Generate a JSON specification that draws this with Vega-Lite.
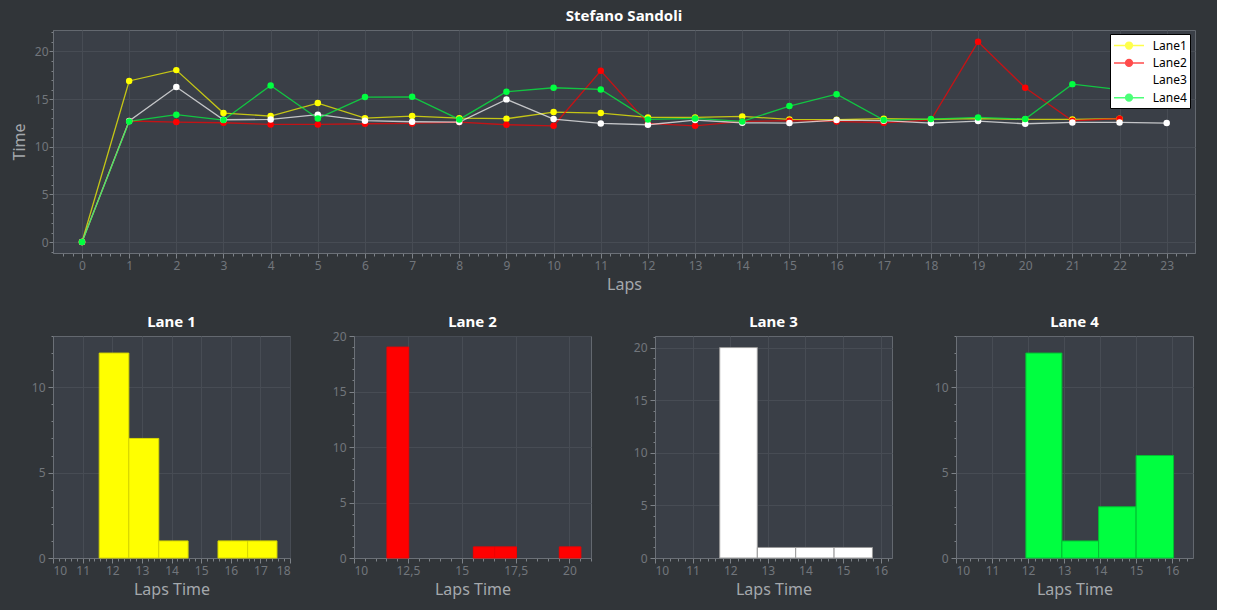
{
  "$schema": "https://vega.github.io/schema/vega-lite/v6.json",
  "background": "#313539",
  "padding": {"left": 10, "top": 8, "right": 21, "bottom": 12},
  "config": {
    "font": "Noto Sans",
    "view": {"fill": "#3a3f47", "stroke": "#63686f", "strokeWidth": 1},
    "axis": {
      "domainColor": "#6b7077",
      "tickColor": "#7c8187",
      "gridColor": "#474c54",
      "labelColor": "#71767c",
      "labelFontSize": 12,
      "titleColor": "#a4a8ac",
      "titleFontSize": 16,
      "titleFontWeight": "normal"
    },
    "title": {"color": "#ffffff", "fontSize": 15, "fontWeight": "bold", "offset": 6}
  },
  "datasets": {
    "laps": [
      {"Lane": "Lane1", "Lap": 0, "Time": 0},
      {"Lane": "Lane1", "Lap": 1, "Time": 16.9},
      {"Lane": "Lane1", "Lap": 2, "Time": 18.04},
      {"Lane": "Lane1", "Lap": 3, "Time": 13.53},
      {"Lane": "Lane1", "Lap": 4, "Time": 13.22},
      {"Lane": "Lane1", "Lap": 5, "Time": 14.58},
      {"Lane": "Lane1", "Lap": 6, "Time": 13.0},
      {"Lane": "Lane1", "Lap": 7, "Time": 13.22},
      {"Lane": "Lane1", "Lap": 8, "Time": 13.0},
      {"Lane": "Lane1", "Lap": 9, "Time": 12.94},
      {"Lane": "Lane1", "Lap": 10, "Time": 13.64},
      {"Lane": "Lane1", "Lap": 11, "Time": 13.53},
      {"Lane": "Lane1", "Lap": 12, "Time": 13.08},
      {"Lane": "Lane1", "Lap": 13, "Time": 13.08},
      {"Lane": "Lane1", "Lap": 14, "Time": 13.18},
      {"Lane": "Lane1", "Lap": 15, "Time": 12.87},
      {"Lane": "Lane1", "Lap": 16, "Time": 12.83},
      {"Lane": "Lane1", "Lap": 17, "Time": 12.94},
      {"Lane": "Lane1", "Lap": 18, "Time": 12.87},
      {"Lane": "Lane1", "Lap": 19, "Time": 12.94},
      {"Lane": "Lane1", "Lap": 20, "Time": 12.87},
      {"Lane": "Lane1", "Lap": 21, "Time": 12.87},
      {"Lane": "Lane1", "Lap": 22, "Time": 12.94},
      {"Lane": "Lane2", "Lap": 0, "Time": 0},
      {"Lane": "Lane2", "Lap": 1, "Time": 12.7},
      {"Lane": "Lane2", "Lap": 2, "Time": 12.59},
      {"Lane": "Lane2", "Lap": 3, "Time": 12.52},
      {"Lane": "Lane2", "Lap": 4, "Time": 12.34},
      {"Lane": "Lane2", "Lap": 5, "Time": 12.34},
      {"Lane": "Lane2", "Lap": 6, "Time": 12.41},
      {"Lane": "Lane2", "Lap": 7, "Time": 12.45},
      {"Lane": "Lane2", "Lap": 8, "Time": 12.59},
      {"Lane": "Lane2", "Lap": 9, "Time": 12.31},
      {"Lane": "Lane2", "Lap": 10, "Time": 12.2},
      {"Lane": "Lane2", "Lap": 11, "Time": 17.97},
      {"Lane": "Lane2", "Lap": 12, "Time": 12.45},
      {"Lane": "Lane2", "Lap": 13, "Time": 12.2},
      {"Lane": "Lane2", "Lap": 14, "Time": 12.66},
      {"Lane": "Lane2", "Lap": 15, "Time": 12.73},
      {"Lane": "Lane2", "Lap": 16, "Time": 12.66},
      {"Lane": "Lane2", "Lap": 17, "Time": 12.52},
      {"Lane": "Lane2", "Lap": 18, "Time": 12.8},
      {"Lane": "Lane2", "Lap": 19, "Time": 21.01},
      {"Lane": "Lane2", "Lap": 20, "Time": 16.19},
      {"Lane": "Lane2", "Lap": 21, "Time": 12.73},
      {"Lane": "Lane2", "Lap": 22, "Time": 12.94},
      {"Lane": "Lane3", "Lap": 0, "Time": 0},
      {"Lane": "Lane3", "Lap": 1, "Time": 12.7},
      {"Lane": "Lane3", "Lap": 2, "Time": 16.26},
      {"Lane": "Lane3", "Lap": 3, "Time": 12.83},
      {"Lane": "Lane3", "Lap": 4, "Time": 12.87},
      {"Lane": "Lane3", "Lap": 5, "Time": 13.36},
      {"Lane": "Lane3", "Lap": 6, "Time": 12.73},
      {"Lane": "Lane3", "Lap": 7, "Time": 12.62},
      {"Lane": "Lane3", "Lap": 8, "Time": 12.59},
      {"Lane": "Lane3", "Lap": 9, "Time": 14.97},
      {"Lane": "Lane3", "Lap": 10, "Time": 12.9},
      {"Lane": "Lane3", "Lap": 11, "Time": 12.45},
      {"Lane": "Lane3", "Lap": 12, "Time": 12.31},
      {"Lane": "Lane3", "Lap": 13, "Time": 12.8},
      {"Lane": "Lane3", "Lap": 14, "Time": 12.52},
      {"Lane": "Lane3", "Lap": 15, "Time": 12.48},
      {"Lane": "Lane3", "Lap": 16, "Time": 12.8},
      {"Lane": "Lane3", "Lap": 17, "Time": 12.73},
      {"Lane": "Lane3", "Lap": 18, "Time": 12.48},
      {"Lane": "Lane3", "Lap": 19, "Time": 12.69},
      {"Lane": "Lane3", "Lap": 20, "Time": 12.41},
      {"Lane": "Lane3", "Lap": 21, "Time": 12.55},
      {"Lane": "Lane3", "Lap": 22, "Time": 12.55},
      {"Lane": "Lane3", "Lap": 23, "Time": 12.48},
      {"Lane": "Lane4", "Lap": 0, "Time": 0},
      {"Lane": "Lane4", "Lap": 1, "Time": 12.66},
      {"Lane": "Lane4", "Lap": 2, "Time": 13.36},
      {"Lane": "Lane4", "Lap": 3, "Time": 12.8},
      {"Lane": "Lane4", "Lap": 4, "Time": 16.43},
      {"Lane": "Lane4", "Lap": 5, "Time": 12.97},
      {"Lane": "Lane4", "Lap": 6, "Time": 15.21},
      {"Lane": "Lane4", "Lap": 7, "Time": 15.24},
      {"Lane": "Lane4", "Lap": 8, "Time": 12.87},
      {"Lane": "Lane4", "Lap": 9, "Time": 15.77},
      {"Lane": "Lane4", "Lap": 10, "Time": 16.19},
      {"Lane": "Lane4", "Lap": 11, "Time": 16.01},
      {"Lane": "Lane4", "Lap": 12, "Time": 12.87},
      {"Lane": "Lane4", "Lap": 13, "Time": 12.97},
      {"Lane": "Lane4", "Lap": 14, "Time": 12.66},
      {"Lane": "Lane4", "Lap": 15, "Time": 14.27},
      {"Lane": "Lane4", "Lap": 16, "Time": 15.52},
      {"Lane": "Lane4", "Lap": 17, "Time": 12.8},
      {"Lane": "Lane4", "Lap": 18, "Time": 12.9},
      {"Lane": "Lane4", "Lap": 19, "Time": 13.08},
      {"Lane": "Lane4", "Lap": 20, "Time": 12.9},
      {"Lane": "Lane4", "Lap": 21, "Time": 16.57},
      {"Lane": "Lane4", "Lap": 22, "Time": 16.0}
    ],
    "hist": [
      {"lane": "Lane 1", "start": 11.56, "end": 12.56, "count": 12},
      {"lane": "Lane 1", "start": 12.56, "end": 13.57, "count": 7},
      {"lane": "Lane 1", "start": 13.57, "end": 14.56, "count": 1},
      {"lane": "Lane 1", "start": 15.57, "end": 16.57, "count": 1},
      {"lane": "Lane 1", "start": 16.57, "end": 17.56, "count": 1},
      {"lane": "Lane 2", "start": 11.53, "end": 12.54, "count": 19},
      {"lane": "Lane 2", "start": 15.54, "end": 16.53, "count": 1},
      {"lane": "Lane 2", "start": 16.53, "end": 17.54, "count": 1},
      {"lane": "Lane 2", "start": 19.53, "end": 20.53, "count": 1},
      {"lane": "Lane 3", "start": 11.72, "end": 12.72, "count": 20},
      {"lane": "Lane 3", "start": 12.72, "end": 13.74, "count": 1},
      {"lane": "Lane 3", "start": 13.74, "end": 14.76, "count": 1},
      {"lane": "Lane 3", "start": 14.76, "end": 15.78, "count": 1},
      {"lane": "Lane 4", "start": 11.94, "end": 12.94, "count": 12},
      {"lane": "Lane 4", "start": 12.94, "end": 13.96, "count": 1},
      {"lane": "Lane 4", "start": 13.96, "end": 15.0, "count": 3},
      {"lane": "Lane 4", "start": 15.0, "end": 16.04, "count": 6}
    ]
  },
  "bounds": "flush",
  "spacing": 83,
  "vconcat": [
    {
      "title": {"text": "Stefano Sandoli"},
      "width": 1142,
      "height": 223,
      "data": {"name": "laps"},
      "encoding": {
        "x": {
          "field": "Lap", "type": "quantitative",
          "scale": {"domain": [-0.615, 23.6], "nice": false, "zero": false},
          "axis": {
            "title": "Laps", "titlePadding": 5, "labelPadding": 2,
            "values": [-0.4,-0.2,0,0.2,0.4,0.6,0.8,1,1.2,1.4,1.6,1.8,2,2.2,2.4,2.6,2.8,3,3.2,3.4,3.6,3.8,4,4.2,4.4,4.6,4.8,5,5.2,5.4,5.6,5.8,6,6.2,6.4,6.6,6.8,7,7.2,7.4,7.6,7.8,8,8.2,8.4,8.6,8.8,9,9.2,9.4,9.6,9.8,10,10.2,10.4,10.6,10.8,11,11.2,11.4,11.6,11.8,12,12.2,12.4,12.6,12.8,13,13.2,13.4,13.6,13.8,14,14.2,14.4,14.6,14.8,15,15.2,15.4,15.6,15.8,16,16.2,16.4,16.6,16.8,17,17.2,17.4,17.6,17.8,18,18.2,18.4,18.6,18.8,19,19.2,19.4,19.6,19.8,20,20.2,20.4,20.6,20.8,21,21.2,21.4,21.6,21.8,22,22.2,22.4,22.6,22.8,23,23.2,23.4],
            "labelExpr": "datum.value % 1 === 0 ? '' + datum.value : ''",
            "tickSize": {"condition": {"test": "datum.value % 1 === 0", "value": 5}, "value": 3},
            "gridOpacity": {"condition": {"test": "datum.value % 1 === 0", "value": 1}, "value": 0}
          }
        },
        "y": {
          "field": "Time", "type": "quantitative",
          "scale": {"domain": [-1.15, 22.25], "nice": false, "zero": false},
          "axis": {
            "title": "Time", "titlePadding": 7, "labelPadding": 1,
            "values": [-1,0,1,2,3,4,5,6,7,8,9,10,11,12,13,14,15,16,17,18,19,20,21,22],
            "labelExpr": "datum.value % 5 === 0 ? '' + datum.value : ''",
            "tickSize": {"condition": {"test": "datum.value % 5 === 0", "value": 4}, "value": 2},
            "gridOpacity": {"condition": {"test": "datum.value % 5 === 0", "value": 1}, "value": 0}
          }
        },
        "color": {
          "field": "Lane", "type": "nominal",
          "scale": {"domain": ["Lane1", "Lane2", "Lane3", "Lane4"], "range": ["#ffff00", "#ff0000", "#ffffff", "#00ff40"]},
          "legend": {
            "title": null,
            "orient": "none",
            "legendX": 1057,
            "legendY": 4,
            "padding": 3,
            "fillColor": "#ffffff",
            "strokeColor": "#000000",
            "symbolType": "M-1,0L3,0M1.45,0A0.45,0.45,0,1,1,0.55,0A0.45,0.45,0,1,1,1.45,0Z",
            "symbolSize": 225,
            "labelOffset": 22.7,
            "labelFontSize": 12,
            "labelColor": "#000000",
            "rowPadding": 2.4,
            "encode": {
              "symbols": {
                "fill": {"value": {"expr": "scale('color', datum.value)"}},
                "stroke": {"value": {"expr": "scale('color', datum.value)"}},
                "strokeWidth": {"value": 1.5},
                "opacity": {"value": 1},
                "strokeOpacity": {"value": 0.55},
                "fillOpacity": {"value": 1}
              }
            }
          }
        }
      },
      "layer": [
        {"mark": {"type": "line", "strokeWidth": 1.3, "opacity": 0.7}},
        {"mark": {"type": "point", "filled": true, "size": 42, "opacity": 1}}
      ]
    },
    {
      "bounds": "flush",
      "spacing": 64,
      "hconcat": [
        {
          "title": {"text": "Lane 1"},
          "width": 237, "height": 222,
          "data": {"name": "hist"},
          "transform": [{"filter": "datum.lane === 'Lane 1'"}],
          "mark": {"type": "rect", "fill": "#ffff00", "stroke": "#d6d600", "strokeWidth": 1},
          "encoding": {
            "x": {
              "field": "start", "type": "quantitative",
              "scale": {"domain": [10, 18], "nice": false, "zero": false},
              "axis": {
                "title": "Laps Time", "titlePadding": 5, "labelPadding": 2,
                "values": [10,10.2,10.4,10.6,10.8,11,11.2,11.4,11.6,11.8,12,12.2,12.4,12.6,12.8,13,13.2,13.4,13.6,13.8,14,14.2,14.4,14.6,14.8,15,15.2,15.4,15.6,15.8,16,16.2,16.4,16.6,16.8,17,17.2,17.4,17.6,17.8,18],
                "labelExpr": "datum.value % 1 === 0 ? '' + datum.value : ''",
                "tickSize": {"condition": {"test": "datum.value % 1 === 0", "value": 5}, "value": 3},
                "gridOpacity": {"condition": {"test": "datum.value % 1 === 0", "value": 1}, "value": 0}
              }
            },
            "x2": {"field": "end"},
            "y": {
              "field": "count", "type": "quantitative",
              "scale": {"domain": [0, 13], "nice": false},
              "axis": {
                "title": null, "labelPadding": 3,
                "values": [0,1,2,3,4,5,6,7,8,9,10,11,12,13],
                "labelExpr": "datum.value % 5 === 0 ? '' + datum.value : ''",
                "tickSize": {"condition": {"test": "datum.value % 5 === 0", "value": 5}, "value": 2},
                "gridOpacity": {"condition": {"test": "datum.value % 5 === 0", "value": 1}, "value": 0}
              }
            },
            "y2": {"datum": 0}
          }
        },
        {
          "title": {"text": "Lane 2", "offset": 0},
          "width": 237, "height": 222,
          "data": {"name": "hist"},
          "transform": [{"filter": "datum.lane === 'Lane 2'"}],
          "mark": {"type": "rect", "fill": "#ff0000", "stroke": "#f00000", "strokeWidth": 1},
          "encoding": {
            "x": {
              "field": "start", "type": "quantitative",
              "scale": {"domain": [10, 21], "nice": false, "zero": false},
              "axis": {
                "title": "Laps Time", "titlePadding": 5, "labelPadding": 2,
                "values": [10,10.5,11,11.5,12,12.5,13,13.5,14,14.5,15,15.5,16,16.5,17,17.5,18,18.5,19,19.5,20,20.5,21],
                "labelExpr": "datum.value % 2.5 === 0 ? replace('' + datum.value, '.', ',') : ''",
                "tickSize": {"condition": {"test": "datum.value % 2.5 === 0", "value": 5}, "value": 3},
                "gridOpacity": {"condition": {"test": "datum.value % 2.5 === 0", "value": 1}, "value": 0}
              }
            },
            "x2": {"field": "end"},
            "y": {
              "field": "count", "type": "quantitative",
              "scale": {"domain": [0, 20], "nice": false},
              "axis": {
                "title": null, "labelPadding": 3,
                "values": [0,1,2,3,4,5,6,7,8,9,10,11,12,13,14,15,16,17,18,19,20],
                "labelExpr": "datum.value % 5 === 0 ? '' + datum.value : ''",
                "tickSize": {"condition": {"test": "datum.value % 5 === 0", "value": 5}, "value": 2},
                "gridOpacity": {"condition": {"test": "datum.value % 5 === 0", "value": 1}, "value": 0}
              }
            },
            "y2": {"datum": 0}
          }
        },
        {
          "title": {"text": "Lane 3"},
          "width": 237, "height": 222,
          "data": {"name": "hist"},
          "transform": [{"filter": "datum.lane === 'Lane 3'"}],
          "mark": {"type": "rect", "fill": "#ffffff", "stroke": "#9a9a9a", "strokeWidth": 1},
          "encoding": {
            "x": {
              "field": "start", "type": "quantitative",
              "scale": {"domain": [10, 16.3], "nice": false, "zero": false},
              "axis": {
                "title": "Laps Time", "titlePadding": 5, "labelPadding": 2,
                "values": [10,10.2,10.4,10.6,10.8,11,11.2,11.4,11.6,11.8,12,12.2,12.4,12.6,12.8,13,13.2,13.4,13.6,13.8,14,14.2,14.4,14.6,14.8,15,15.2,15.4,15.6,15.8,16,16.2],
                "labelExpr": "datum.value % 1 === 0 ? '' + datum.value : ''",
                "tickSize": {"condition": {"test": "datum.value % 1 === 0", "value": 5}, "value": 3},
                "gridOpacity": {"condition": {"test": "datum.value % 1 === 0", "value": 1}, "value": 0}
              }
            },
            "x2": {"field": "end"},
            "y": {
              "field": "count", "type": "quantitative",
              "scale": {"domain": [0, 21.1], "nice": false},
              "axis": {
                "title": null, "labelPadding": 3,
                "values": [0,1,2,3,4,5,6,7,8,9,10,11,12,13,14,15,16,17,18,19,20,21],
                "labelExpr": "datum.value % 5 === 0 ? '' + datum.value : ''",
                "tickSize": {"condition": {"test": "datum.value % 5 === 0", "value": 5}, "value": 2},
                "gridOpacity": {"condition": {"test": "datum.value % 5 === 0", "value": 1}, "value": 0}
              }
            },
            "y2": {"datum": 0}
          }
        },
        {
          "title": {"text": "Lane 4"},
          "width": 237, "height": 222,
          "data": {"name": "hist"},
          "transform": [{"filter": "datum.lane === 'Lane 4'"}],
          "mark": {"type": "rect", "fill": "#00ff40", "stroke": "#00c032", "strokeWidth": 1},
          "encoding": {
            "x": {
              "field": "start", "type": "quantitative",
              "scale": {"domain": [10, 16.58], "nice": false, "zero": false},
              "axis": {
                "title": "Laps Time", "titlePadding": 5, "labelPadding": 2,
                "values": [10,10.2,10.4,10.6,10.8,11,11.2,11.4,11.6,11.8,12,12.2,12.4,12.6,12.8,13,13.2,13.4,13.6,13.8,14,14.2,14.4,14.6,14.8,15,15.2,15.4,15.6,15.8,16,16.2,16.4],
                "labelExpr": "datum.value % 1 === 0 ? '' + datum.value : ''",
                "tickSize": {"condition": {"test": "datum.value % 1 === 0", "value": 5}, "value": 3},
                "gridOpacity": {"condition": {"test": "datum.value % 1 === 0", "value": 1}, "value": 0}
              }
            },
            "x2": {"field": "end"},
            "y": {
              "field": "count", "type": "quantitative",
              "scale": {"domain": [0, 13], "nice": false},
              "axis": {
                "title": null, "labelPadding": 3,
                "values": [0,1,2,3,4,5,6,7,8,9,10,11,12,13],
                "labelExpr": "datum.value % 5 === 0 ? '' + datum.value : ''",
                "tickSize": {"condition": {"test": "datum.value % 5 === 0", "value": 5}, "value": 2},
                "gridOpacity": {"condition": {"test": "datum.value % 5 === 0", "value": 1}, "value": 0}
              }
            },
            "y2": {"datum": 0}
          }
        }
      ]
    }
  ]
}
